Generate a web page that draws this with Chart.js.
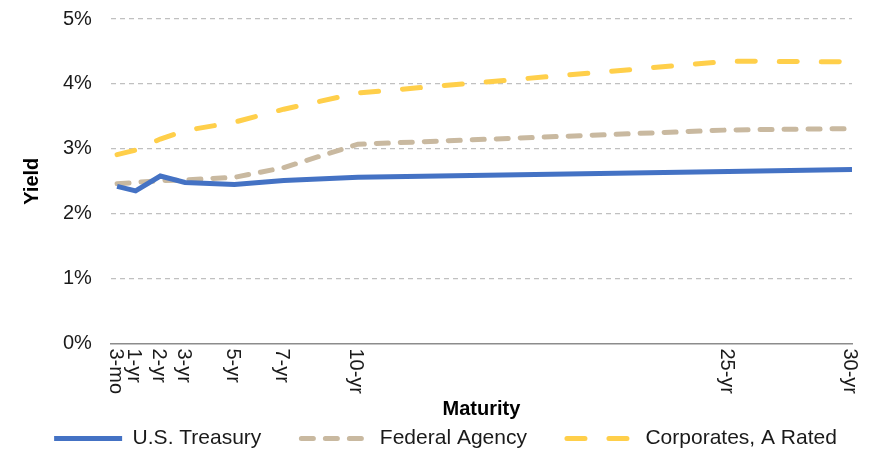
<!DOCTYPE html>
<html>
<head>
<meta charset="utf-8">
<script src="https://cdn.jsdelivr.net/npm/chart.js@4.4.1/dist/chart.umd.min.js"></script>
<style>
  html, body { margin: 0; padding: 0; background: #fff; }
  #wrap { width: 881px; height: 451px; }
</style>
</head>
<body>
<div id="wrap"><canvas id="myChart"></canvas></div>
<script>
// maturities in years, with their axis labels
var maturities = [0.25, 1, 2, 3, 5, 7, 10, 25, 30];
var maturityLabels = ["3-mo", "1-yr", "2-yr", "3-yr", "5-yr", "7-yr", "10-yr", "25-yr", "30-yr"];

// yields, %
var treasury = [2.42, 2.35, 2.58, 2.48, 2.45, 2.51, 2.56, 2.65, 2.68];
var agency = [2.46, 2.48, 2.51, 2.52, 2.56, 2.71, 3.07, 3.29, 3.31];
var corporates = [2.91, 2.98, 3.15, 3.28, 3.41, 3.61, 3.86, 4.35, 4.34];

var yTicks = [0, 1, 2, 3, 4, 5];

Chart.defaults.font.family = "'Liberation Sans', Arial, sans-serif";
Chart.defaults.font.size = 20;
Chart.defaults.color = "#1a1a1a";

function pts(arr) {
  return maturities.map(function (m, i) { return { x: m, y: arr[i] }; });
}

// x tick labels in the reference read top-to-bottom, so draw them turned clockwise
var clockwiseTicks = {
  id: "clockwiseTicks",
  afterDraw: function (chart) {
    var sc = chart.scales.x;
    var c = chart.ctx;
    c.save();
    c.font = "20px 'Liberation Sans', Arial, sans-serif";
    c.fillStyle = "#1a1a1a";
    c.textAlign = "left";
    c.textBaseline = "middle";
    maturities.forEach(function (m, i) {
      var px = sc.getPixelForValue(m);
      c.save();
      c.translate(px - 2, sc.top + 5);
      c.rotate(Math.PI / 2);
      c.fillText(maturityLabels[i], 0, 0);
      c.restore();
    });
    c.restore();
  }
};

// legend samples should look like the series lines (dashes included)
function legendItems(chart) {
  return chart.data.datasets.map(function (ds, i) {
    return {
      text: ds.label,
      datasetIndex: i,
      fillStyle: ds.borderColor,
      strokeStyle: ds.borderColor,
      lineWidth: ds.borderWidth,
      lineDash: ds.borderDash || [],
      lineCap: ds.borderCapStyle,
      pointStyle: "line",
      hidden: false,
      fontColor: "#1a1a1a"
    };
  });
}

var ctx = document.getElementById("myChart");
var myChart = new Chart(ctx, {
  type: "line",
  data: {
    datasets: [
      {
        label: "U.S. Treasury",
        data: pts(treasury),
        borderColor: "#4472C4",
        backgroundColor: "#4472C4",
        borderWidth: 5,
        borderCapStyle: "butt",
        pointRadius: 0,
        tension: 0
      },
      {
        label: "Federal Agency",
        data: pts(agency),
        borderColor: "#C9B9A0",
        backgroundColor: "#C9B9A0",
        borderWidth: 5,
        borderDash: [12, 12],
        borderCapStyle: "round",
        pointRadius: 0,
        tension: 0
      },
      {
        label: "Corporates, A Rated",
        data: pts(corporates),
        borderColor: "#FFCF4A",
        backgroundColor: "#FFCF4A",
        borderWidth: 5,
        borderDash: [18, 24],
        borderCapStyle: "round",
        pointRadius: 0,
        tension: 0
      }
    ]
  },
  options: {
    responsive: true,
    maintainAspectRatio: false,
    animation: false,
    layout: { padding: { top: 0, right: 0, left: 10, bottom: 0 } },
    plugins: {
      tooltip: { enabled: false },
      legend: {
        position: "bottom",
        maxHeight: 63,
        labels: {
          usePointStyle: true,
          pointStyle: "line",
          pointStyleWidth: 68,
          boxHeight: 5,
          padding: 40,
          color: "#1a1a1a",
          font: { size: 21 },
          generateLabels: legendItems
        }
      }
    },
    scales: {
      x: {
        type: "linear",
        min: 0,
        max: 30,
        afterBuildTicks: function (axis) {
          axis.ticks = maturities.map(function (m) { return { value: m }; });
        },
        ticks: {
          autoSkip: false,
          minRotation: 90,
          maxRotation: 90,
          color: "rgba(0,0,0,0)",
          padding: 5,
          callback: function (v) {
            var i = maturities.indexOf(v);
            return i >= 0 ? maturityLabels[i] : "";
          }
        },
        grid: { display: false, drawTicks: false },
        border: { display: true, color: "#8c8c8c", width: 1.5 },
        title: {
          display: true,
          text: "Maturity",
          font: { size: 20, weight: "bold" },
          color: "#000",
          padding: { top: -2, bottom: -33 }
        }
      },
      y: {
        min: 0,
        max: 5,
        afterBuildTicks: function (axis) {
          axis.ticks = yTicks.map(function (v) { return { value: v }; });
        },
        afterFit: function (axis) {
          axis.paddingTop = 19;
          axis.paddingBottom = 12;
        },
        ticks: {
          padding: 19,
          callback: function (v) { return v + "%"; }
        },
        grid: {
          drawTicks: false,
          color: function (c) { return c.tick && c.tick.value === 0 ? "rgba(0,0,0,0)" : "#C0C0C0"; },
          lineWidth: 1.3
        },
        border: { display: false, dash: [5, 4] },
        title: {
          display: true,
          text: "Yield",
          font: { size: 20, weight: "bold" },
          color: "#000",
          padding: { top: 10, bottom: 0 }
        }
      },
      // empty right-hand axis, only to keep the gap at the right of the plot
      yR: {
        position: "right",
        display: true,
        grid: { display: false, drawTicks: false },
        border: { display: false },
        ticks: { display: false },
        afterFit: function (axis) { axis.width = 29; }
      }
    }
  },
  plugins: [clockwiseTicks]
});
</script>
</body>
</html>
